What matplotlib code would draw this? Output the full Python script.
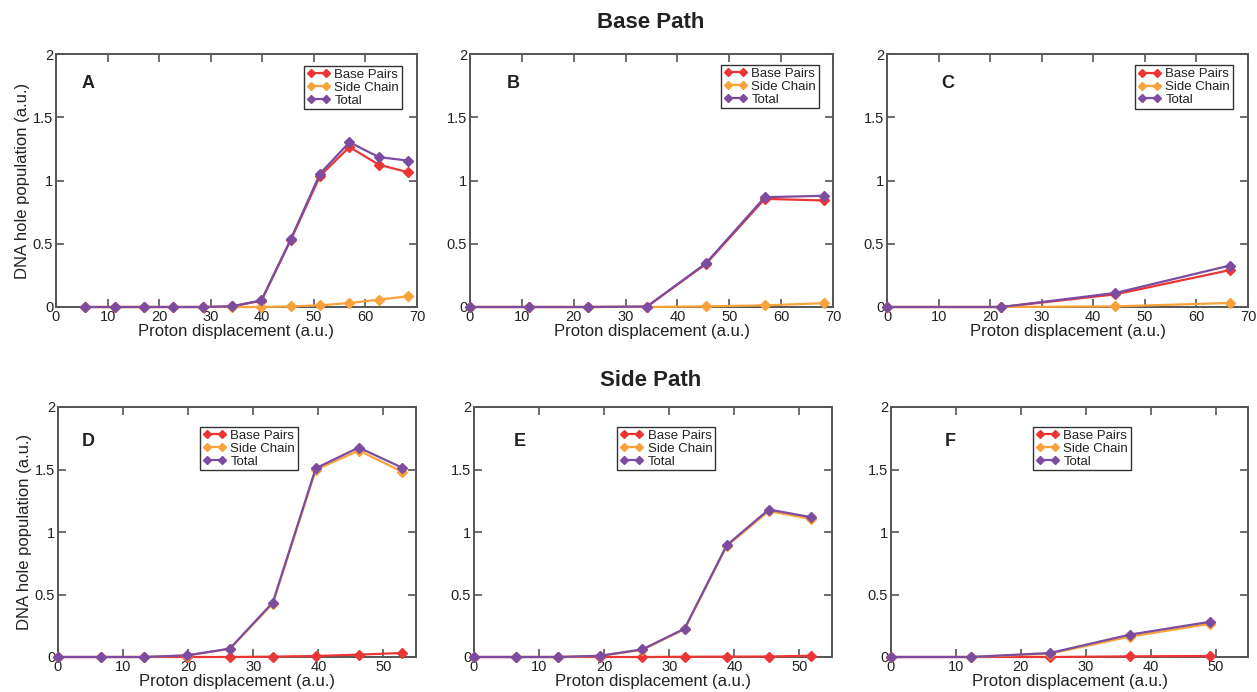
import matplotlib
matplotlib.use("Agg")
import matplotlib.pyplot as plt

plt.rcParams['font.family'] = ['Liberation Sans', 'DejaVu Sans']

# ---- Base path panels -------------------------------------------------------
a_x = [5.69, 11.38, 17.07, 22.76, 28.45, 34.14, 39.83, 45.52, 51.21, 56.90, 62.59, 68.28]
a_base = [0, 0, 0, 0, 0, 0.005, 0.05, 0.53, 1.037, 1.265, 1.125, 1.065]
a_side = [0, 0, 0, 0, 0, 0, 0, 0.005, 0.013, 0.032, 0.058, 0.085]
a_total = [0, 0, 0, 0, 0, 0.005, 0.053, 0.535, 1.055, 1.302, 1.185, 1.157]

b_x = [0, 11.37, 22.74, 34.11, 45.48, 56.85, 68.22]
b_base = [0, 0, 0, 0.003, 0.34, 0.855, 0.842]
b_side = [0, 0, 0, 0, 0.005, 0.013, 0.03]
b_total = [0, 0, 0, 0.003, 0.345, 0.868, 0.879]

c_x = [0, 22.2, 44.3, 66.5]
c_base = [0, 0, 0.10, 0.292]
c_side = [0, 0, 0.005, 0.032]
c_total = [0, 0, 0.111, 0.328]

# ---- Side path panels -------------------------------------------------------
d_x = [0, 6.6, 13.2, 19.8, 26.4, 33.0, 39.6, 46.2, 52.8]
d_base = [0, 0, 0, 0, 0, 0.003, 0.008, 0.019, 0.032]
d_side = [0, 0, 0, 0.012, 0.065, 0.428, 1.497, 1.652, 1.484]
d_total = [0, 0, 0, 0.013, 0.067, 0.436, 1.51, 1.676, 1.516]

e_x = [0, 6.47, 12.94, 19.41, 25.88, 32.35, 38.82, 45.29, 51.76]
e_base = [0, 0, 0, 0, 0, 0.002, 0.003, 0.004, 0.01]
e_side = [0, 0, 0, 0.009, 0.058, 0.222, 0.887, 1.167, 1.105]
e_total = [0, 0, 0, 0.01, 0.061, 0.227, 0.894, 1.18, 1.119]

f_x = [0, 12.3, 24.5, 36.8, 49.1]
f_base = [0, 0, 0, 0.005, 0.008]
f_side = [0, 0, 0.027, 0.163, 0.265]
f_total = [0, 0, 0.032, 0.179, 0.281]

panel_letters = ['A', 'B', 'C', 'D', 'E', 'F']
series_names = ['Base Pairs', 'Side Chain', 'Total']
series_colors = ['#ec3535', '#faa23a', '#7b4c9f']

panels = [
    (a_x, a_base, a_side, a_total, 70),
    (b_x, b_base, b_side, b_total, 70),
    (c_x, c_base, c_side, c_total, 70),
    (d_x, d_base, d_side, d_total, 55),
    (e_x, e_base, e_side, e_total, 55),
    (f_x, f_base, f_side, f_total, 55),
]

W, H = 1257, 692
fig = plt.figure(figsize=(W / 100, H / 100), dpi=100)

# axes rectangles in pixels: left, top, right, bottom
boxes = [
    (56, 54, 417, 307), (470, 54, 833, 307), (887, 54, 1248, 307),
    (58, 407, 416, 657), (474, 407, 832, 657), (891, 407, 1248, 657),
]
letter_pos = [(0.072, 0.885), (0.10, 0.885), (0.15, 0.885),
              (0.067, 0.86), (0.11, 0.86), (0.15, 0.86)]
legend_anchor = [('upper right', (0.958, 0.953)), ('upper right', (0.961, 0.957)),
                 ('upper right', (0.958, 0.955)), ('upper left', (0.397, 0.92)),
                 ('upper left', (0.40, 0.92)), ('upper left', (0.398, 0.92))]

spine_col = '#555555'
for i, ((x, base, side, total, xmax), (l, t, r, b)) in enumerate(zip(panels, boxes)):
    ax = fig.add_axes([l / W, (H - b) / H, (r - l) / W, (b - t) / H])
    for ys, name, col in zip([base, side, total], series_names, series_colors):
        ax.plot(x, ys, color=col, lw=1.6, marker='D', ms=4.8, label=name,
                clip_on=False, zorder=3)
    ax.set_xlim(0, xmax)
    ax.set_ylim(0, 2)
    ax.set_xticks(range(0, xmax + 1, 10))
    ax.set_yticks([0, 0.5, 1, 1.5, 2])
    ax.set_yticklabels(['0', '0.5', '1', '1.5', '2'])
    ax.tick_params(direction='in', top=True, right=True, length=6, width=1.2,
                   color=spine_col, labelsize=10.5, pad=2, labelcolor='#222222')
    for s in ax.spines.values():
        s.set_color(spine_col)
        s.set_linewidth(1.4)
    ax.set_xlabel('Proton displacement (a.u.)', fontsize=12, labelpad=0,
                  color='#222222')
    if i in (0, 3):
        ax.set_ylabel('DNA hole population (a.u.)', fontsize=12, labelpad=2,
                      color='#222222')
    ax.text(*letter_pos[i], panel_letters[i], transform=ax.transAxes,
            fontsize=13, fontweight='bold', va='center', ha='left', color='#222222')
    loc, anchor = legend_anchor[i]
    leg = ax.legend(loc=loc, bbox_to_anchor=anchor, borderaxespad=0,
                    fontsize=9.5, numpoints=2, handlelength=1.75,
                    handletextpad=0.35, labelspacing=0.05, borderpad=0.2,
                    fancybox=False, framealpha=1)
    leg.get_frame().set_edgecolor('#333333')
    leg.get_frame().set_linewidth(1.0)
    for txt in leg.get_texts():
        txt.set_color('#222222')
    for h in leg.get_lines():
        h.set_markersize(3.6)

fig.text(651 / W, 1 - 22 / H, 'Base Path', ha='center', va='center',
         fontsize=16, fontweight='bold', color='#222222')
fig.text(651 / W, 1 - 381 / H, 'Side Path', ha='center', va='center',
         fontsize=16, fontweight='bold', color='#222222')

fig.savefig('out.png', dpi=100, facecolor='white')
